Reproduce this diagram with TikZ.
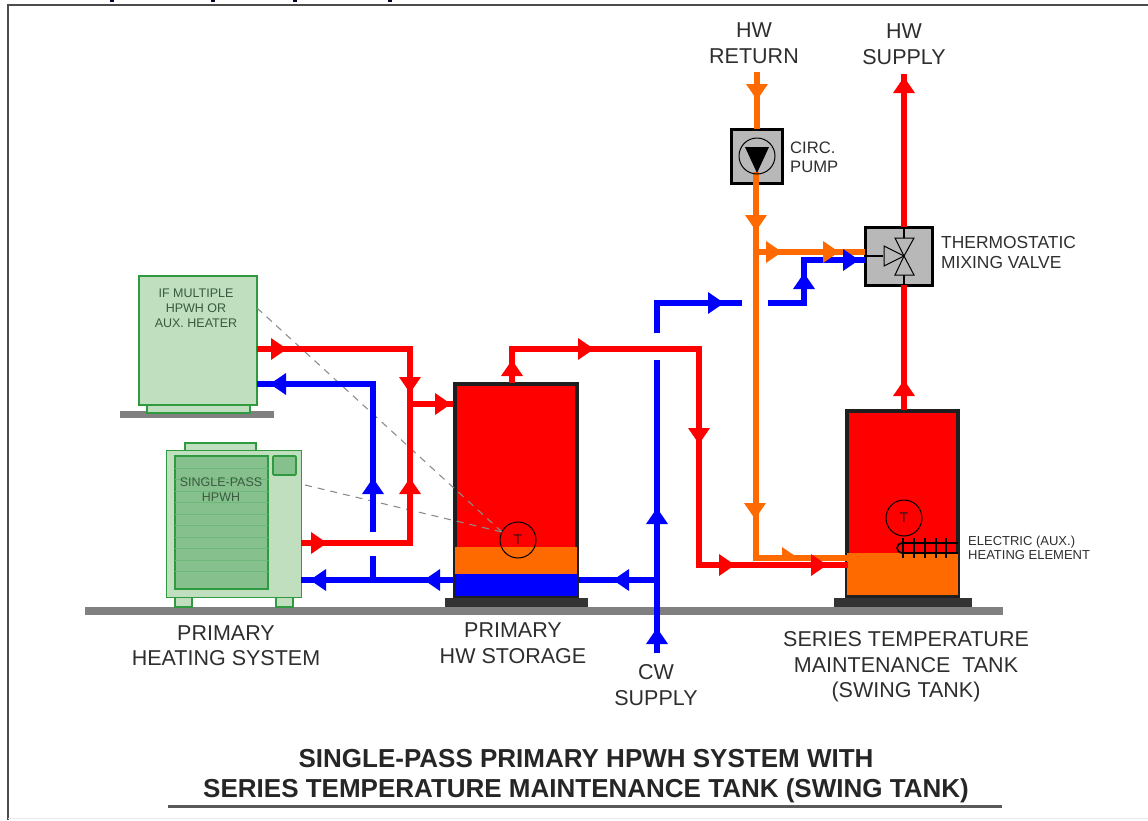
\documentclass[tikz,border=0pt]{standalone}
\usepackage{fontspec}
\setmainfont{Liberation Sans}
\definecolor{redp}{HTML}{FF0000}
\definecolor{bluep}{HTML}{0000FF}
\definecolor{orangep}{HTML}{FF6A00}
\definecolor{gline}{HTML}{2F9A3F}
\definecolor{gfill}{HTML}{BFDFBF}
\definecolor{gdark}{HTML}{86C08C}
\definecolor{floorg}{HTML}{808080}
\definecolor{txt}{HTML}{2E2E2E}
\definecolor{boxg}{HTML}{B8B8B8}
\definecolor{eqtxt}{HTML}{3A5A40}
\newcommand\arR[3]{\fill[#1] (#2,#3) ++(0,-11) -- ++(16,11) -- ++(-16,11) -- cycle;}
\newcommand\arL[3]{\fill[#1] (#2,#3) ++(0,-11) -- ++(-16,11) -- ++(16,11) -- cycle;}
\newcommand\arU[3]{\fill[#1] (#2,#3) ++(-11,0) -- ++(11,-16) -- ++(11,16) -- cycle;}
\newcommand\arD[3]{\fill[#1] (#2,#3) ++(-11,0) -- ++(11,16) -- ++(11,-16) -- cycle;}
\tikzset{
 x=1pt,y=-1pt,
 redpipe/.style={draw=redp,line width=6.5pt,line join=miter},
 bluepipe/.style={draw=bluep,line width=6.5pt,line join=miter},
 orangepipe/.style={draw=orangep,line width=6.5pt,line join=miter},
 box/.style={rectangle,inner sep=0pt,outer sep=0pt},
 greenbox/.style={box,draw=gline,fill=gfill,line width=1.6pt},
 tankbox/.style={box,draw=black!88,line width=4pt},
 ctlbox/.style={box,draw=black,fill=boxg,line width=3pt},
 basebox/.style={box,fill=black!80},
 floorbar/.style={box,fill=floorg},
 tsens/.style={circle,draw=black,line width=1pt,inner sep=0pt,minimum size=36pt,font=\fontsize{14}{14}\selectfont,text=black!90},
 lab/.style={align=center,text=txt,inner sep=0pt,font=\fontsize{21.5}{25.5}\selectfont},
 smalllab/.style={align=left,text=txt,inner sep=0pt,anchor=west,font=\fontsize{16.6}{19}\selectfont},
 eqlab/.style={align=center,text=eqtxt,inner sep=0pt,font=\fontsize{12.5}{15}\selectfont},
 leader/.style={draw=gray!90,line width=1.1pt,dash pattern=on 7pt off 6pt},
 valvetri/.style={draw=black,fill=boxg,line width=1pt,line join=miter},
}
\begin{document}
\begin{tikzpicture}
\useasboundingbox (0,0) rectangle (1148,820);
% frame
\coordinate (ftl) at (8,5);
\coordinate (ftr) at (1148,5);
\coordinate (fbl) at (8,820);
\draw[black!70,line width=2pt] (ftr) -- (ftl) -- (fbl);
\draw[black!8,line width=1pt] (8,818) -- (1148,818);
\foreach \xx in {112,213,295,390}{\fill[black!85!blue] (\xx-2,0) rectangle (\xx+2,2);}
% floors
\node[floorbar,minimum width=918pt,minimum height=8pt] (floor) at (544,611) {};
\node[floorbar,minimum width=154pt,minimum height=7pt] (shelf) at (197,414.5) {};
% heater equipment
\node[greenbox,minimum width=103pt,minimum height=9pt] (hbase) at (198.5,408.5) {};
\node[greenbox,minimum width=118pt,minimum height=129pt] (aux) at (198,340.5) {};
\node[greenbox,minimum width=71pt,minimum height=8pt] (hcap) at (220.5,447) {};
\node[greenbox,minimum width=17pt,minimum height=10pt] (foota) at (183.5,602) {};
\node[greenbox,minimum width=17pt,minimum height=10pt] (footb) at (284.5,602) {};
\node[greenbox,minimum width=135pt,minimum height=147pt] (hpwh) at (234,524) {};
\node[greenbox,fill=gdark,minimum width=93pt,minimum height=133pt] (grille) at (221.5,522.5) {};
\foreach \yy in {468,479.5,491,502.5,514,525.5,537,548.5,560,571.5}{\draw[gline!70,line width=0.7pt] (175,\yy) -- (268,\yy);}
\node[greenbox,fill=gdark,rounded corners=1pt,minimum width=23pt,minimum height=19pt] (hpanel) at (284.5,465.5) {};
% tanks
\node[tankbox,fill=redp,minimum width=122pt,minimum height=213pt] (tank1) at (516,490.5) {};
\node[tankbox,fill=redp,minimum width=111pt,minimum height=185pt] (tank2) at (902.5,503.5) {};
\fill[orangep] (455,547) rectangle (577,574);
\fill[bluep] (455,574) rectangle (577,596);
\fill[orangep] (847,553) rectangle (958,595);
\node[basebox,minimum width=143pt,minimum height=9pt] (base1) at (516.5,602.5) {};
\node[basebox,minimum width=138pt,minimum height=9pt] (base2) at (903,602.5) {};
\node[tsens] (t1) at (518,540) {T};
\node[tsens] (t2) at (904,518) {T};
% heating element
\draw[black,line width=1.6pt] (958,543) -- (902,543) arc[start angle=270,end angle=90,radius=5] -- (958,553);
\foreach \xx in {903,914,925,936,946}{\draw[black,line width=1.6pt] (\xx,538) -- (\xx,558);}
% leaders
\coordinate (ldt) at (502,532);
\draw[leader] (aux.east |- 0,308) -- (ldt);
\draw[leader] (305,485) -- (ldt);
% control boxes
\node[ctlbox,minimum width=51pt,minimum height=54pt] (pump) at (756.5,156) {};
\node[ctlbox,minimum width=67pt,minimum height=58pt] (valve) at (898.5,256) {};
% pipes: red
\coordinate (r1) at (410,349);
\coordinate (r2) at (410,543);
\draw[redpipe] (257,349) -- (r1) -- (r2) -- (301,543);
\draw[redpipe] (410,404) -- (453,404);
\draw[redpipe] (512,383) -- (512,349) -- (699,349) -- (699,565) -- (848,565);
\draw[redpipe] (904,410) -- (904,285);
\draw[redpipe] (904,227) -- (904,74);
% pipes: blue
\draw[bluepipe] (257,384) -- (373,384) -- (373,532);
\draw[bluepipe] (373,556) -- (373,580);
\draw[bluepipe] (301,580) -- (453,580);
\draw[bluepipe] (579,580) -- (657,580);
\draw[bluepipe] (657,653) -- (657,360);
\draw[bluepipe] (657,333) -- (657,303) -- (742,303);
\draw[bluepipe] (768,303) -- (804,303) -- (804,260) -- (865,260);
% pipes: orange
\draw[orangepipe] (757,72) -- (757,129);
\draw[orangepipe] (756,172) -- (756,558) -- (848,558);
\draw[orangepipe] (756,252) -- (865,252);
\draw[redpipe] (699,565) -- (848,565);
% arrows
\arR{redp}{271}{349}\arD{redp}{410}{377}\arR{redp}{435}{404}\arU{redp}{410}{494}\arR{redp}{311}{543}
\arL{bluep}{286}{384}\arU{bluep}{373}{494}\arL{bluep}{326}{580}\arL{bluep}{440}{580}
\arL{bluep}{629}{580}\arU{bluep}{657}{524}\arU{bluep}{657}{644}
\arR{bluep}{708}{303}\arU{bluep}{804}{289}\arR{bluep}{843}{260}
\arD{orangep}{757}{84}\arD{orangep}{756}{215}\arD{orangep}{755}{503}
\arR{orangep}{766}{252}\arR{orangep}{823}{252}
\fill[orangep] (782,547) -- (798,558) -- (782,558) -- cycle;
\arU{redp}{512}{376}\arR{redp}{578}{349}\arD{redp}{699}{428}\arR{redp}{719}{565}\arR{redp}{811}{565}
\arU{redp}{904}{93}\arU{redp}{904}{396}
% pump symbol
\draw[black,line width=1pt] (757,156) circle[radius=18];
\fill[black] (745,147) -- (769,147) -- (757,173) -- cycle;
% valve symbol
\draw[black,line width=2pt] (867,256) -- (883,256);
\draw[black,line width=2pt] (904,227) -- (904,238);
\draw[black,line width=2pt] (904,275) -- (904,285);
\draw[valvetri] (895,238) -- (914,238) -- (904,256) -- cycle;
\draw[valvetri] (895,275) -- (914,275) -- (904,256) -- cycle;
\draw[valvetri] (884,246) -- (884,266) -- (904,256) -- cycle;
% labels
\node[lab] (l1) at (754,43) {HW\\RETURN};
\node[lab] (l2) at (904,44) {HW\\SUPPLY};
\node[smalllab] (l3) at (790,157) {CIRC.\\PUMP};
\node[smalllab,font=\fontsize{17.4}{20}\selectfont] (l4) at (941,253) {THERMOSTATIC\\MIXING VALVE};
\node[smalllab,font=\fontsize{13}{14.5}\selectfont] (l5) at (968,548) {ELECTRIC (AUX.)\\HEATING ELEMENT};
\node[eqlab] (l6) at (196,308) {IF MULTIPLE\\HPWH OR\\AUX. HEATER};
\node[eqlab] (l7) at (221,489.5) {SINGLE-PASS\\HPWH};
\node[lab] (l8) at (226,645.5) {PRIMARY\\HEATING SYSTEM};
\node[lab] (l9) at (513,643) {PRIMARY\\HW STORAGE};
\node[lab] (l10) at (656,685) {CW\\SUPPLY};
\node[lab] (l11) at (906,667) {SERIES TEMPERATURE\\MAINTENANCE\ \ TANK\\(SWING TANK)};
\node[align=center,inner sep=0pt,text=black!85,font=\bfseries\fontsize{26}{30}\selectfont] (title) at (586,776) {SINGLE-PASS PRIMARY HPWH SYSTEM WITH\\SERIES TEMPERATURE MAINTENANCE TANK (SWING TANK)};
\coordinate (ula) at (168,806);
\coordinate (ulb) at (1002,806);
\draw[black!65,line width=3pt] (ula) -- (ulb);
\end{tikzpicture}
\end{document}
